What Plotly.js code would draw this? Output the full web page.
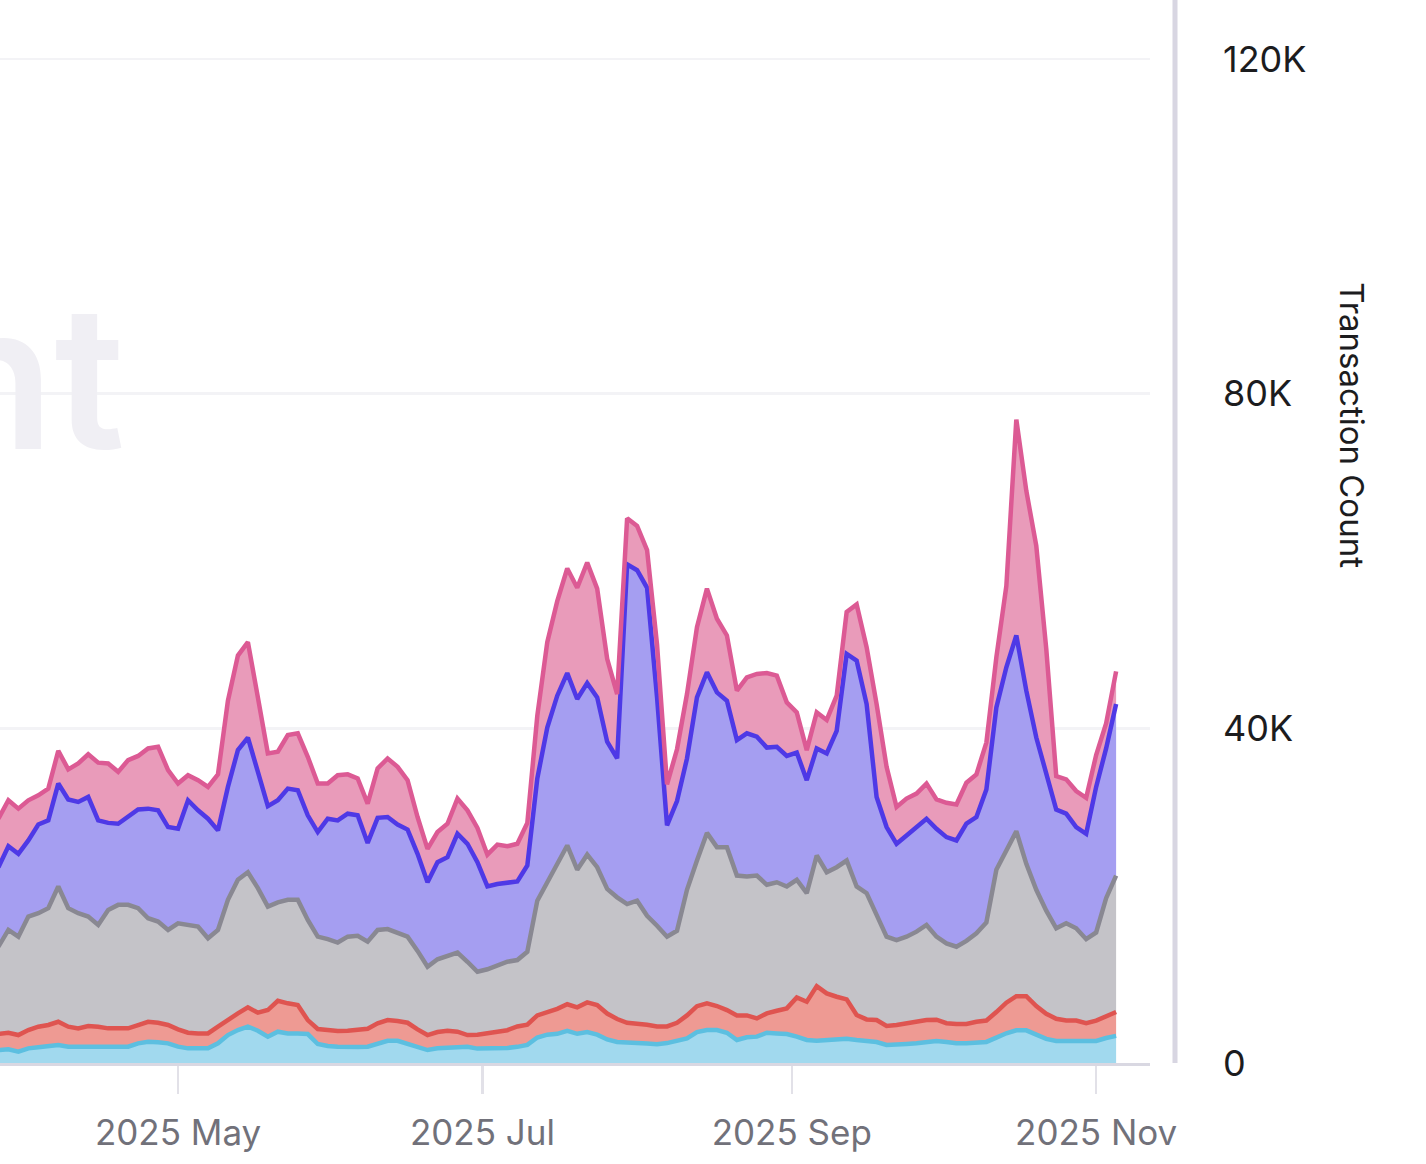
<!DOCTYPE html>
<html>
<head>
<meta charset="utf-8">
<script src="https://cdn.plot.ly/plotly-3.0.1.min.js"></script>
<style>
  html, body { margin: 0; padding: 0; background: #ffffff; }
  #chart { width: 1426px; height: 1164px; }
</style>
</head>
<body>
<div id="chart"></div>
<script>
// Daily transaction counts, sampled every second day, stacked bottom -> top.
const dates = [
    "2025-03-26", "2025-03-28", "2025-03-30",
    "2025-04-01", "2025-04-03", "2025-04-05", "2025-04-07", "2025-04-09", "2025-04-11", "2025-04-13", "2025-04-15",
    "2025-04-17", "2025-04-19", "2025-04-21", "2025-04-23", "2025-04-25", "2025-04-27", "2025-04-29",
    "2025-05-01", "2025-05-03", "2025-05-05", "2025-05-07", "2025-05-09", "2025-05-11", "2025-05-13", "2025-05-15",
    "2025-05-17", "2025-05-19", "2025-05-21", "2025-05-23", "2025-05-25", "2025-05-27", "2025-05-29", "2025-05-31",
    "2025-06-02", "2025-06-04", "2025-06-06", "2025-06-08", "2025-06-10", "2025-06-12", "2025-06-14", "2025-06-16",
    "2025-06-18", "2025-06-20", "2025-06-22", "2025-06-24", "2025-06-26", "2025-06-28", "2025-06-30",
    "2025-07-02", "2025-07-04", "2025-07-06", "2025-07-08", "2025-07-10", "2025-07-12", "2025-07-14", "2025-07-16",
    "2025-07-18", "2025-07-20", "2025-07-22", "2025-07-24", "2025-07-26", "2025-07-28", "2025-07-30",
    "2025-08-01", "2025-08-03", "2025-08-05", "2025-08-07", "2025-08-09", "2025-08-11", "2025-08-13", "2025-08-15",
    "2025-08-17", "2025-08-19", "2025-08-21", "2025-08-23", "2025-08-25", "2025-08-27", "2025-08-29", "2025-08-31",
    "2025-09-02", "2025-09-04", "2025-09-06", "2025-09-08", "2025-09-10", "2025-09-12", "2025-09-14", "2025-09-16",
    "2025-09-18", "2025-09-20", "2025-09-22", "2025-09-24", "2025-09-26", "2025-09-28", "2025-09-30",
    "2025-10-02", "2025-10-04", "2025-10-06", "2025-10-08", "2025-10-10", "2025-10-12", "2025-10-14", "2025-10-16",
    "2025-10-18", "2025-10-20", "2025-10-22", "2025-10-24", "2025-10-26", "2025-10-28", "2025-10-30",
    "2025-11-01", "2025-11-03", "2025-11-05",
];

const cyanSeries = [
    1550, 1630, 1350, 1750, 1870, 1950, 2150, 1950, 1950, 2030, 2030, 1950, 1950, 1950, 2350, 2550, 2470, 2350, 1950, 1750, 1750, 1750, 2350, 3340, 3940,
    4340, 3860, 3140, 3740, 3540, 3540, 3460, 2270, 2030, 1950, 1870, 1900, 1950, 2350, 2660, 2660, 2270, 1830, 1550, 1750, 1830, 1950, 1950,
    1720, 1720, 1720, 1800, 1930, 2160, 3040, 3390, 3490, 3830, 3490, 3700, 3390, 2820, 2510, 2380, 2380, 2330, 2240, 2380, 2600, 2950, 3700,
    3940, 3940, 3620, 2750, 3070, 3150, 3620, 3540, 3460, 3150, 2750, 2660, 2750, 2750, 2900, 2750, 2630, 2510, 2150, 2150, 2270, 2350, 2430,
    2630, 2520, 2370, 2370, 2420, 2520, 3030, 3550, 3900, 3900, 3390, 2880, 2630, 2630, 2630, 2520, 2630, 2990, 3240,
];
const redSeries = [
    1910, 1990, 1990, 2190, 2470, 2590, 2780, 2390, 2190, 2390, 2310, 2190, 2190, 2190, 2190, 2380, 2340, 2190, 2070, 1870, 1790, 1790, 1990, 1870, 1990,
    2310, 2150, 3190, 3700, 3590, 3390, 1670, 1790, 1910, 1870, 1990, 2040, 2150, 2390, 2470, 2350, 2540, 2190, 1790, 1950, 2030, 1790, 1390,
    1670, 1850, 1980, 2120, 2440, 2420, 2650, 2650, 2990, 3190, 3170, 3540, 3540, 3090, 2740, 2430, 2340, 2250, 2130, 1990, 2210, 2740, 3090,
    3180, 2870, 2710, 2940, 2620, 2180, 2310, 2710, 3070, 4690, 4570, 6530, 5570, 5170, 4700, 2980, 2580, 2620, 2270, 2390, 2470, 2660, 2700,
    2540, 2240, 2300, 2300, 2500, 2550, 3060, 3660, 4080, 4080, 3420, 3010, 2650, 2440, 2440, 2240, 2440, 2600, 2850,
];
const graySeries = [
    10440, 12280, 11760, 13560, 13560, 13960, 16170, 14160, 13760, 13080, 12160, 14160, 14760, 14760, 13960, 12370, 12090, 11360, 12680, 12880, 12760, 11360, 11560, 14290, 15970,
    16150, 14890, 12370, 11760, 12370, 12570, 11970, 11040, 10860, 10580, 11240, 11260, 10400, 11160, 10870, 10490, 10290, 9380, 8160, 8700, 8940, 9460, 8760,
    7510, 7630, 7950, 8180, 7930, 8720, 13710, 15560, 17520, 18980, 16440, 17660, 16470, 14890, 14550, 14190, 14680, 13020, 12030, 10730, 10990, 15010, 17410,
    20380, 18990, 19470, 16710, 16610, 17070, 15370, 15350, 14570, 14060, 12980, 15610, 14480, 15480, 16600, 15370, 15090, 12570, 10680, 10160, 10360, 10690, 11370,
    9930, 9540, 9230, 9930, 10580, 11730, 17010, 18090, 19720, 15820, 13890, 12310, 10820, 11630, 11030, 10040, 10530, 14110, 16310,
];
const blueSeries = [
    9500, 10000, 9900, 9100, 10600, 10500, 12300, 13000, 13300, 14300, 12500, 10400, 9700, 10500, 11800, 13100, 13300, 12300, 11300, 14900, 13900, 14300, 11900, 13500, 15500,
    16100, 13700, 12000, 12200, 13300, 13100, 12500, 12500, 14400, 14600, 14700, 14400, 11800, 13400, 13400, 13000, 12800, 11600, 10100, 11600, 11800, 14200, 14100,
    13100, 9900, 9750, 9500, 9400, 10300, 14600, 18500, 19900, 20600, 20400, 20500, 20300, 17600, 16600, 40600, 39500, 39200, 27300, 13300, 15500, 15700, 19500,
    19200, 18500, 17500, 16200, 17100, 16600, 16400, 16200, 15600, 15200, 13500, 12800, 14200, 16300, 24700, 27000, 22600, 14100, 13100, 11500, 12100, 12500, 12700,
    12900, 12700, 12700, 14000, 13900, 15900, 19400, 22000, 23400, 20700, 18200, 16300, 14200, 13100, 12100, 12600, 17400, 17900, 20500,
];
const pinkSeries = [
    5800, 5500, 5400, 4800, 3500, 3800, 3900, 3600, 4600, 5100, 6900, 7100, 6200, 6800, 6400, 7200, 7600, 6800, 5400, 3000, 3600, 3800, 6700, 10300, 11300,
    11400, 9100, 6300, 5800, 6400, 6800, 7000, 5800, 4200, 5400, 4700, 4400, 4700, 5900, 7000, 6900, 5900, 4400, 4000, 3600, 4000, 4200, 4000,
    4100, 3800, 4700, 4300, 4500, 5100, 7500, 10200, 11300, 12500, 13300, 14400, 13000, 9900, 7700, 5500, 5300, 4500, 6300, 4900, 6200, 7700, 8400,
    10000, 8800, 7800, 5900, 6700, 7500, 8900, 8500, 6400, 4800, 3600, 4300, 4000, 4200, 5000, 6700, 6800, 11100, 7200, 4400, 4400, 4000, 4200,
    3500, 4100, 4300, 4900, 5100, 5600, 6000, 9700, 25800, 23900, 22900, 15000, 4000, 4100, 4300, 4300, 3800, 3000, 3900,
];

const yTickVals = [0, 40000, 80000, 120000];
const yTickText = ["0", "40K", "80K", "120K"];

const LAYERS = [
    { name: "cyan", y: cyanSeries, line: "#5cbfe0", fill: "#a1d9ee" },
    { name: "red",  y: redSeries,  line: "#df5450", fill: "#ee9a93" },
    { name: "gray", y: graySeries, line: "#898892", fill: "#c4c3c8" },
    { name: "blue", y: blueSeries, line: "#4e39e6", fill: "#a59ef1" },
    { name: "pink", y: pinkSeries, line: "#dc5a94", fill: "#e99bba" },
];

const FONT = "Inter, 'Noto Sans', 'DejaVu Sans', sans-serif";

const traces = LAYERS.map(l => ({
    x: dates,
    y: l.y,
    name: l.name,
    type: "scatter",
    mode: "lines",
    stackgroup: "one",
    line: { color: l.line, width: 4.5 },
    fillcolor: l.fill,
    hoverinfo: "skip",
}));

const layout = {
    width: 1426,
    height: 1164,
    paper_bgcolor: "#ffffff",
    plot_bgcolor: "#ffffff",
    margin: { l: 0, r: 276, t: 0, b: 101 },
    showlegend: false,
    font: { family: FONT },
    xaxis: {
        type: "date",
        range: ["2025-03-26 07:40", "2025-11-11 19:00"],
        tick0: "2025-01-01",
        dtick: "M2",
        tickformat: "%Y %b",
        ticks: "outside",
        ticklen: 28,
        tickwidth: 2.5,
        tickcolor: "#e2e1e8",
        ticklabelstandoff: 9,
        showline: true,
        linecolor: "#d9d8e2",
        linewidth: 3,
        showgrid: false,
        zeroline: false,
        tickfont: { size: 35, color: "#71717a", family: FONT },
    },
    yaxis: {
        side: "right",
        range: [0, 127050],
        tickvals: yTickVals,
        ticktext: yTickText,
        ticks: "",
        ticklabelstandoff: 72,
        showline: false,
        zeroline: false,
        gridcolor: "#f3f3f6",
        gridwidth: 2.5,
        tickfont: { size: 36, color: "#1c1c1e", family: FONT },
    },
    shapes: [
        {
            type: "line", xref: "paper", yref: "paper",
            x0: 1175 / 1150, x1: 1175 / 1150, y0: 0, y1: 1,
            line: { color: "#d8d6e2", width: 5 },
        },
    ],
    annotations: [
        {
            // faded watermark, cut off by the left edge
            text: "nt", xref: "paper", yref: "paper",
            x: 127 / 1150, y: 0.646, xanchor: "right", yanchor: "middle",
            showarrow: false,
            font: { size: 200, color: "#f0eff4", family: FONT, weight: 600 },
        },
        {
            text: "Transaction Count", xref: "paper", yref: "paper",
            x: 1352 / 1150, y: 0.6, xanchor: "center", yanchor: "middle",
            textangle: 90, showarrow: false,
            font: { size: 33, color: "#1c1c1e", family: FONT },
        },
    ],
};

Plotly.newPlot("chart", traces, layout, { displayModeBar: false, staticPlot: true });
</script>
</body>
</html>
